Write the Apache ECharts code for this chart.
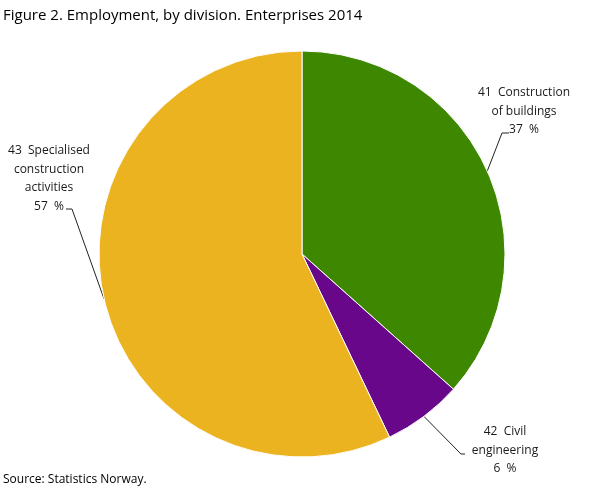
<!DOCTYPE html>
<html>
<head>
<meta charset="utf-8">
<script src="https://cdn.jsdelivr.net/npm/echarts@6/dist/echarts.min.js"></script>
<style>
html,body{margin:0;padding:0;background:#fff;}
#chart{width:609px;height:488px;}
</style>
</head>
<body>
<div id="chart"></div>
<script>
// ---- data ----
const categories = ['41  Construction\nof buildings', '42  Civil\nengineering', '43  Specialised\nconstruction\nactivities'];
const shares = [36.6, 6.3, 57.1];
const colors = ['#3e8700', '#69078a', '#ecb320'];

// ---- label layout (positions only) ----
const labelPos = [
  { x: 524, y: 111.5, bend: [502, 133], end: [509, 133] },
  { x: 505, y: 450.5, bend: [461, 454], end: [465, 454] },
  { x: 49,  y: 178.5, bend: [72, 209],  end: [66, 209] }
];

const chart = echarts.init(document.getElementById('chart'), null, { renderer: 'canvas' });
const font = "'Open Sans', 'DejaVu Sans', sans-serif";

chart.setOption({
  animation: false,
  title: [
    {
      text: 'Figure 2. Employment, by division. Enterprises 2014',
      left: 3, top: 8, padding: 0,
      textStyle: { fontFamily: font, fontSize: 15, fontWeight: 'normal', color: '#000' }
    },
    {
      text: 'Source: Statistics Norway.',
      left: 3, bottom: 2, padding: 0,
      textStyle: { fontFamily: font, fontSize: 12, fontWeight: 'normal', color: '#000' }
    }
  ],
  series: [{
    type: 'pie',
    center: [302, 254],
    radius: 203,
    startAngle: 90,
    clockwise: true,
    data: categories.map((c, i) => ({ name: c, value: shares[i], itemStyle: { color: colors[i] } })),
    itemStyle: { borderColor: '#fff', borderWidth: 1 },
    emphasis: { disabled: true },
    label: {
      show: true,
      position: 'outside',
      overflow: 'none',
      width: 200,
      formatter: p => p.name + '\n' + Math.round(p.value) + '  %',
      fontFamily: font,
      fontSize: 12,
      lineHeight: 18.5,
      color: '#1a1a1a',
      align: 'center'
    },
    labelLine: { show: true, lineStyle: { color: '#222', width: 1 } },
    labelLayout: function (params) {
      const p = labelPos[params.dataIndex];
      const start = params.labelLinePoints ? params.labelLinePoints[0] : p.bend;
      return {
        x: p.x, y: p.y, align: 'center', verticalAlign: 'middle',
        labelLinePoints: [start, p.bend, p.end]
      };
    }
  }]
});
</script>
</body>
</html>
